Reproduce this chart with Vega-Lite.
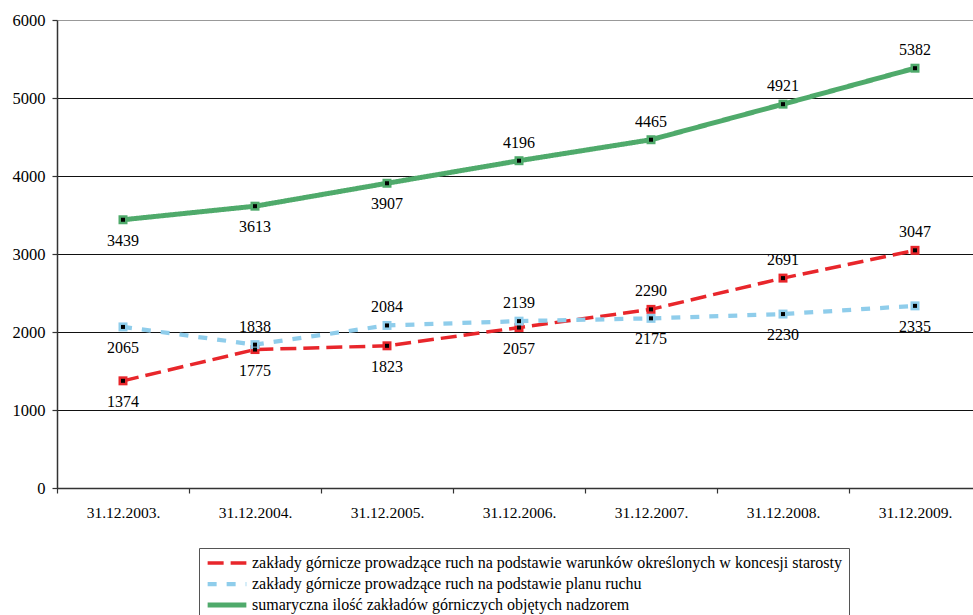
{
  "$schema": "https://vega.github.io/schema/vega-lite/v6.json",
  "autosize": {"type": "none"},
  "width": 924,
  "height": 468,
  "padding": {"left": 57, "top": 20, "right": 0, "bottom": 127},
  "background": "white",
  "config": {
    "view": {"stroke": null},
    "font": "Liberation Serif",
    "axis": {"labelFont": "Liberation Serif"},
    "legend": {"labelFont": "Liberation Serif"},
    "text": {"font": "Liberation Serif"}
  },
  "data": {
    "values": [
      {"date": "31.12.2003.", "series": "zakłady górnicze prowadzące ruch na podstawie warunków określonych w koncesji starosty", "value": 1374, "side": "below"},
      {"date": "31.12.2004.", "series": "zakłady górnicze prowadzące ruch na podstawie warunków określonych w koncesji starosty", "value": 1775, "side": "below"},
      {"date": "31.12.2005.", "series": "zakłady górnicze prowadzące ruch na podstawie warunków określonych w koncesji starosty", "value": 1823, "side": "below"},
      {"date": "31.12.2006.", "series": "zakłady górnicze prowadzące ruch na podstawie warunków określonych w koncesji starosty", "value": 2057, "side": "below"},
      {"date": "31.12.2007.", "series": "zakłady górnicze prowadzące ruch na podstawie warunków określonych w koncesji starosty", "value": 2290, "side": "above"},
      {"date": "31.12.2008.", "series": "zakłady górnicze prowadzące ruch na podstawie warunków określonych w koncesji starosty", "value": 2691, "side": "above"},
      {"date": "31.12.2009.", "series": "zakłady górnicze prowadzące ruch na podstawie warunków określonych w koncesji starosty", "value": 3047, "side": "above"},
      {"date": "31.12.2003.", "series": "zakłady górnicze prowadzące ruch na podstawie planu ruchu", "value": 2065, "side": "below"},
      {"date": "31.12.2004.", "series": "zakłady górnicze prowadzące ruch na podstawie planu ruchu", "value": 1838, "side": "above"},
      {"date": "31.12.2005.", "series": "zakłady górnicze prowadzące ruch na podstawie planu ruchu", "value": 2084, "side": "above"},
      {"date": "31.12.2006.", "series": "zakłady górnicze prowadzące ruch na podstawie planu ruchu", "value": 2139, "side": "above"},
      {"date": "31.12.2007.", "series": "zakłady górnicze prowadzące ruch na podstawie planu ruchu", "value": 2175, "side": "below"},
      {"date": "31.12.2008.", "series": "zakłady górnicze prowadzące ruch na podstawie planu ruchu", "value": 2230, "side": "below"},
      {"date": "31.12.2009.", "series": "zakłady górnicze prowadzące ruch na podstawie planu ruchu", "value": 2335, "side": "below"},
      {"date": "31.12.2003.", "series": "sumaryczna ilość zakładów górniczych objętych nadzorem", "value": 3439, "side": "below"},
      {"date": "31.12.2004.", "series": "sumaryczna ilość zakładów górniczych objętych nadzorem", "value": 3613, "side": "below"},
      {"date": "31.12.2005.", "series": "sumaryczna ilość zakładów górniczych objętych nadzorem", "value": 3907, "side": "below"},
      {"date": "31.12.2006.", "series": "sumaryczna ilość zakładów górniczych objętych nadzorem", "value": 4196, "side": "above"},
      {"date": "31.12.2007.", "series": "sumaryczna ilość zakładów górniczych objętych nadzorem", "value": 4465, "side": "above"},
      {"date": "31.12.2008.", "series": "sumaryczna ilość zakładów górniczych objętych nadzorem", "value": 4921, "side": "above"},
      {"date": "31.12.2009.", "series": "sumaryczna ilość zakładów górniczych objętych nadzorem", "value": 5382, "side": "above"}
    ]
  },
  "encoding": {
    "x": {
      "field": "date", "type": "ordinal", "sort": null,
      "scale": {"type": "band", "paddingInner": 0, "paddingOuter": 0},
      "axis": {
        "title": null, "labelAngle": 0, "labelFont": "Liberation Serif", "labelFontSize": 15.5,
        "labelColor": "#000", "labelPadding": 12, "tickBand": "extent", "tickSize": 5,
        "tickColor": "#333", "domainColor": "#333", "domainWidth": 1.5, "tickWidth": 1.2, "grid": false
      }
    },
    "y": {
      "field": "value", "type": "quantitative",
      "scale": {"domain": [0, 6000], "nice": false, "zero": true},
      "axis": {
        "title": null, "values": [0, 1000, 2000, 3000, 4000, 5000, 6000], "format": "d",
        "labelFont": "Liberation Serif", "labelFontSize": 16.5, "labelColor": "#000", "labelPadding": 7,
        "tickSize": 5, "tickColor": "#333", "tickWidth": 1.2, "domainColor": "#333", "domainWidth": 1.5,
        "grid": true, "gridWidth": 1.1,
        "gridColor": {"condition": {"test": "datum.value === 6000", "value": "#999"}, "value": "#111"}
      }
    }
  },
  "layer": [
    {
      "mark": {"type": "line", "interpolate": "linear"},
      "encoding": {
        "color": {
          "field": "series", "type": "nominal",
          "scale": {
            "domain": ["zakłady górnicze prowadzące ruch na podstawie warunków określonych w koncesji starosty", "zakłady górnicze prowadzące ruch na podstawie planu ruchu", "sumaryczna ilość zakładów górniczych objętych nadzorem"],
            "range": ["#E8262B", "#8FCDEB", "#4FAA6B"]
          },
          "legend": {
            "title": null, "orient": "none", "legendX": 142, "legendY": 528,
            "direction": "vertical", "symbolType": "stroke", "symbolSize": 1500, "symbolStrokeWidth": 4,
            "clipHeight": 18,
            "labelFont": "Liberation Serif", "labelFontSize": 16, "labelColor": "#000", "labelLimit": 900,
            "labelOffset": 3, "rowPadding": 3, "padding": 6, "strokeColor": "#555", "fillColor": "white"
          }
        },
        "strokeDash": {
          "field": "series", "type": "nominal",
          "scale": {
            "domain": ["zakłady górnicze prowadzące ruch na podstawie warunków określonych w koncesji starosty", "zakłady górnicze prowadzące ruch na podstawie planu ruchu", "sumaryczna ilość zakładów górniczych objętych nadzorem"],
            "range": [[16, 7], [9, 10], [1, 0]]
          },
          "legend": {
            "title": null, "orient": "none", "legendX": 142, "legendY": 528,
            "direction": "vertical", "symbolType": "stroke", "symbolSize": 1500, "symbolStrokeWidth": 4,
            "clipHeight": 18,
            "labelFont": "Liberation Serif", "labelFontSize": 16, "labelColor": "#000", "labelLimit": 900,
            "labelOffset": 3, "rowPadding": 3, "padding": 6, "strokeColor": "#555", "fillColor": "white"
          }
        },
        "strokeWidth": {
          "field": "series", "type": "nominal",
          "scale": {
            "domain": ["zakłady górnicze prowadzące ruch na podstawie warunków określonych w koncesji starosty", "zakłady górnicze prowadzące ruch na podstawie planu ruchu", "sumaryczna ilość zakładów górniczych objętych nadzorem"],
            "range": [3.5, 5, 4.5]
          },
          "legend": null
        }
      }
    },
    {
      "mark": {"type": "square", "size": 81, "opacity": 1, "strokeWidth": 0},
      "encoding": {
        "fill": {
          "field": "series", "type": "nominal",
          "scale": {
            "domain": ["zakłady górnicze prowadzące ruch na podstawie warunków określonych w koncesji starosty", "zakłady górnicze prowadzące ruch na podstawie planu ruchu", "sumaryczna ilość zakładów górniczych objętych nadzorem"],
            "range": ["#E8262B", "#8FCDEB", "#4FAA6B"]
          },
          "legend": null
        }
      }
    },
    {
      "mark": {"type": "square", "size": 16, "color": "#000", "opacity": 1}
    },
    {
      "transform": [{"filter": "datum.side === 'above'"}],
      "mark": {"type": "text", "font": "Liberation Serif", "fontSize": 16, "color": "#000", "dy": -18, "baseline": "middle"},
      "encoding": {"text": {"field": "value", "type": "quantitative", "format": "d"}}
    },
    {
      "transform": [{"filter": "datum.side === 'below'"}],
      "mark": {"type": "text", "font": "Liberation Serif", "fontSize": 16, "color": "#000", "dy": 21, "baseline": "middle"},
      "encoding": {"text": {"field": "value", "type": "quantitative", "format": "d"}}
    }
  ]
}
